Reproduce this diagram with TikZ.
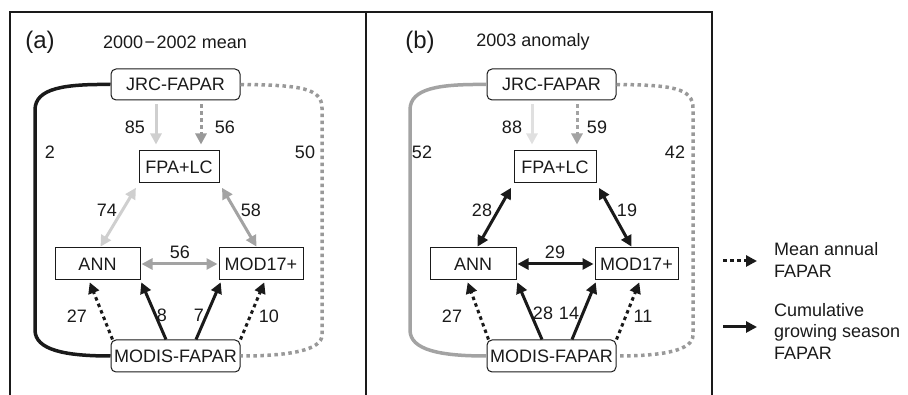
\documentclass[tikz,border=0pt]{standalone}
\usepackage{fontspec}
\setmainfont{Liberation Sans}
\usetikzlibrary{arrows.meta,calc}
\definecolor{ink}{HTML}{1A1A1A}
\definecolor{lg}{HTML}{CFCFCF}
\definecolor{vlg}{HTML}{E0E0E0}
\definecolor{mg}{HTML}{A3A3A3}
\definecolor{dg}{HTML}{999999}
\tikzset{
  every node/.style={font=\fontsize{18}{21.5}\selectfont, text=ink},
  rbox/.style={draw=ink, line width=1pt, rounded corners=5pt, minimum height=31pt, inner sep=0pt},
  sbox/.style={draw=ink, line width=1pt, minimum height=32pt, inner sep=0pt},
  lbl/.style={inner sep=0pt},
  tip/.style={-{Triangle[length=11pt,width=11pt]}},
  dtip/.style={{Triangle[length=11pt,width=11pt]}-{Triangle[length=11pt,width=11pt]}},
  conn/.style={line width=3pt},
  dots/.style={dash pattern=on 3.5pt off 3.5pt},
  loopline/.style={line width=3.5pt},
  frame/.style={line width=2pt, draw=ink},
}
\begin{document}
\begin{tikzpicture}[x=1pt,y=-1pt]
\useasboundingbox (0,0) rectangle (908,395);
% frame
\draw[frame] (10,395) -- (10,12) -- (712,12) -- (712,395);
\draw[frame] (366,12) -- (366,395);

% ---------- panel (a)
\node[lbl, font=\fontsize{24}{28}\selectfont] (pa) at (40,42) {(a)};
\node[lbl] (ta) at (175,42) {2000\kern1.5pt−\kern1.5pt2002 mean};
\node[rbox, minimum width=129pt] (jrcA) at (175.5,84.5) {JRC-FAPAR};
\node[sbox, minimum width=80pt] (fpaA) at (179,167) {FPA+LC};
\node[sbox, minimum width=85pt] (annA) at (97.5,264) {ANN};
\node[sbox, minimum width=84pt] (modA) at (261,264) {MOD17+};
\node[rbox, minimum width=129pt, minimum height=32pt] (modisA) at (175.5,356) {MODIS-FAPAR};

\draw[loopline, ink] (jrcA.west) .. controls (65,84) and (35,88) .. (35,110) -- (35,330) .. controls (35,350) and (65,356) .. (modisA.west);
\draw[loopline, dg, dots] (jrcA.east) .. controls (300,85) and (322,88) .. (322,108) -- (322,335) .. controls (322,350) and (290,356) .. (modisA.east);

\draw[conn, lg, tip, shorten <=4pt, shorten >=6pt] (156,0 |- jrcA.south) -- (156,0 |- fpaA.north);
\draw[conn, dg, dots, tip, shorten <=4pt, shorten >=6pt] (201,0 |- jrcA.south) -- (201,0 |- fpaA.north);
\draw[conn, lg, dtip, shorten <=5pt, shorten >=1pt] (fpaA.south west) -- ([xshift=2.5pt]annA.north);
\draw[conn, mg, dtip, shorten <=5pt, shorten >=1pt] (fpaA.south east) -- ([xshift=-4pt]modA.north);
\draw[conn, mg, dtip, shorten <=1pt, shorten >=1pt] (annA.east) -- (modA.west);
\draw[conn, ink, dots, tip, shorten >=2pt] ([xshift=2pt]modisA.north west) -- ([xshift=-8.5pt]annA.south);
\draw[conn, ink, tip, shorten >=2pt] ([xshift=-9.5pt]modisA.north) -- (annA.south east);
\draw[conn, ink, tip, shorten >=2pt] ([xshift=20.5pt]modisA.north) -- ([xshift=3pt]modA.south west);
\draw[conn, ink, dots, tip, shorten >=2pt] (modisA.north east) -- ([xshift=4pt]modA.south);

\node[lbl] (a2) at (50,152) {2};
\node[lbl] (a50) at (305,152) {50};
\node[lbl] (a85) at (135,127) {85};
\node[lbl] (a56t) at (225,127) {56};
\node[lbl] (a74) at (107,210) {74};
\node[lbl] (a58) at (251,210) {58};
\node[lbl] (a56m) at (180,252) {56};
\node[lbl] (a27) at (77,316) {27};
\node[lbl] (a8) at (162,315) {8};
\node[lbl] (a7) at (199,315) {7};
\node[lbl] (a10) at (269,316) {10};

% ---------- panel (b)
\node[lbl, font=\fontsize{24}{28}\selectfont] (pb) at (420,42) {(b)};
\node[lbl] (tb) at (533,42) {2003 anomaly};
\node[rbox, minimum width=129pt] (jrcB) at (551.5,84.5) {JRC-FAPAR};
\node[sbox, minimum width=82pt] (fpaB) at (555,167) {FPA+LC};
\node[sbox, minimum width=86pt] (annB) at (473,264) {ANN};
\node[sbox, minimum width=83pt] (modB) at (636.5,264) {MOD17+};
\node[rbox, minimum width=129pt, minimum height=32pt] (modisB) at (551.5,356) {MODIS-FAPAR};

\draw[loopline, mg] (jrcB.west) .. controls (440,84) and (410,88) .. (410,110) -- (410,330) .. controls (410,350) and (440,356) .. (modisB.west);
\draw[loopline, dg, dots] (jrcB.east) .. controls (672,85) and (693,88) .. (693,108) -- (693,335) .. controls (693,350) and (665,356) .. (modisB.east);

\draw[conn, vlg, tip, shorten <=4pt, shorten >=6pt] (532,0 |- jrcB.south) -- (532,0 |- fpaB.north);
\draw[conn, mg, dots, tip, shorten <=4pt, shorten >=6pt] (577,0 |- jrcB.south) -- (577,0 |- fpaB.north);
\draw[conn, ink, dtip, shorten <=5pt, shorten >=1pt] (fpaB.south west) -- ([xshift=4pt]annB.north);
\draw[conn, ink, dtip, shorten <=5pt, shorten >=1pt] (fpaB.south east) -- ([xshift=-4.5pt]modB.north);
\draw[conn, ink, dtip, shorten <=1pt, shorten >=1pt] (annB.east) -- (modB.west);
\draw[conn, ink, dots, tip, shorten >=2pt] ([xshift=2pt]modisB.north west) -- ([xshift=-6pt]annB.south);
\draw[conn, ink, tip, shorten >=2pt] ([xshift=-9.5pt]modisB.north) -- (annB.south east);
\draw[conn, ink, tip, shorten >=2pt] ([xshift=20.5pt]modisB.north) -- ([xshift=2pt]modB.south west);
\draw[conn, ink, dots, tip, shorten >=2pt] (modisB.north east) -- ([xshift=3.5pt]modB.south);

\node[lbl] (b52) at (422,152) {52};
\node[lbl] (b42) at (675,152) {42};
\node[lbl] (b88) at (512,127) {88};
\node[lbl] (b59) at (597,127) {59};
\node[lbl] (b28t) at (482,210) {28};
\node[lbl] (b19) at (627,210) {19};
\node[lbl] (b29) at (555,252) {29};
\node[lbl] (b27) at (452,316) {27};
\node[lbl] (b28) at (543,313) {28};
\node[lbl] (b14) at (569,313) {14};
\node[lbl] (b11) at (643,316) {11};

% ---------- legend
\coordinate (l1s) at (723,261);
\coordinate (l1e) at (757,261);
\coordinate (l2s) at (723,327);
\coordinate (l2e) at (757,327);
\draw[conn, ink, dots, tip] (l1s) -- (l1e);
\draw[conn, ink, tip] (l2s) -- (l2e);
\node[lbl, anchor=west, align=left] (leg1) at (774,260) {Mean annual\\FAPAR};
\node[lbl, anchor=west, align=left] (leg2) at (774,331) {Cumulative\\growing season\\FAPAR};
\end{tikzpicture}
\end{document}
